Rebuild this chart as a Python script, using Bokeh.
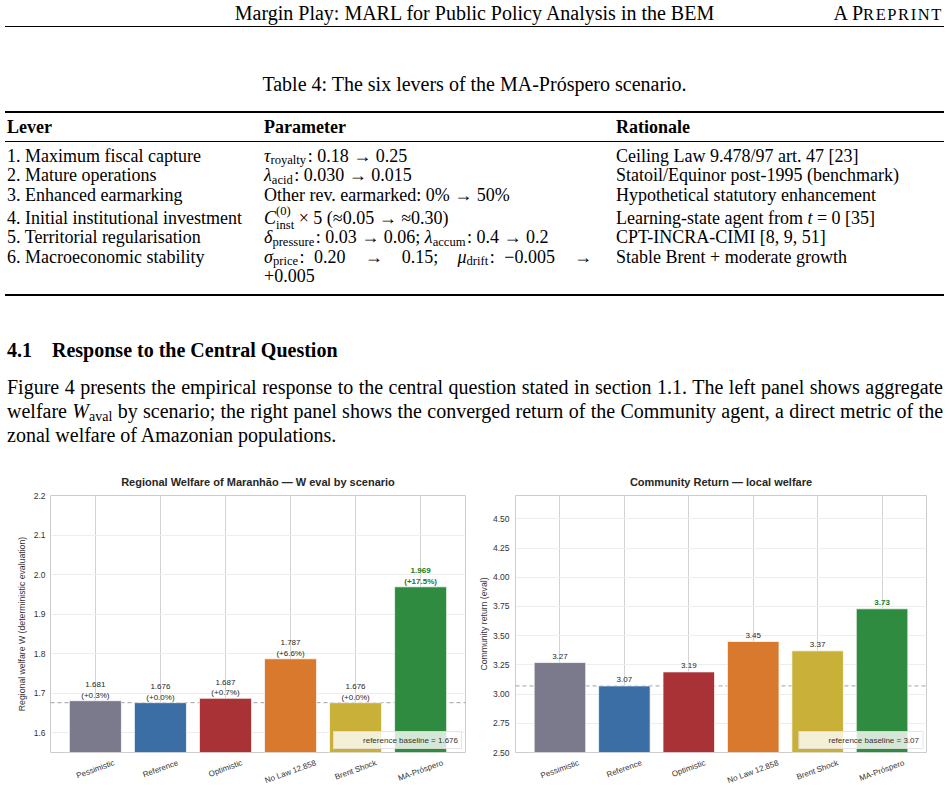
import math
from bokeh.plotting import figure
from bokeh.models import (Div, ColumnDataSource, FixedTicker, Span, Legend, LegendItem,
                          Range1d, NumeralTickFormatter)
from bokeh.layouts import column, row
from bokeh.core.properties import value
from bokeh.embed import file_html
from bokeh.resources import INLINE

# ---------------- data ----------------
scenarios = ["Pessimistic", "Reference", "Optimistic", "No Law 12.858", "Brent Shock", "MA-Próspero"]
bar_colors = ["#7a7a8c", "#3b6ea5", "#a83236", "#d9792d", "#c9b038", "#2e8b3f"]
welfare = [1.681, 1.676, 1.687, 1.787, 1.676, 1.969]
welfare_baseline = 1.676
welfare_ticks = [1.6, 1.7, 1.8, 1.9, 2.0, 2.1, 2.2]
community = [3.27, 3.07, 3.19, 3.45, 3.37, 3.73]
community_baseline = 3.07
community_ticks = [2.50, 2.75, 3.00, 3.25, 3.50, 3.75, 4.00, 4.25, 4.50]

levers = ["1. Maximum fiscal capture", "2. Mature operations", "3. Enhanced earmarking",
          "4. Initial institutional investment", "5. Territorial regularisation",
          "6. Macroeconomic stability"]
rationales = ["Ceiling Law 9.478/97 art. 47 [23]", "Statoil/Equinor post-1995 (benchmark)",
              "Hypothetical statutory enhancement", "Learning-state agent from <i>t</i> = 0 [35]",
              "CPT-INCRA-CIMI [8, 9, 51]", "Stable Brent + moderate growth"]

SUB = '<span style="font-size:0.7em;position:relative;top:0.2em;line-height:0;">{}</span>'
params = [
    '<i>τ</i>' + SUB.format('royalty') + '&#8202;: 0.18 → 0.25',
    '<i>λ</i>' + SUB.format('acid') + '&#8202;: 0.030 → 0.015',
    'Other rev. earmarked: 0% → 50%',
    '<i>C</i><span style="display:inline-block;position:relative;font-size:0.7em;line-height:1;">'
    '<span style="position:absolute;left:0;top:-0.7em;">(0)</span>'
    '<span style="position:relative;top:0.4em;">inst</span></span> × 5 (≈0.05 → ≈0.30)',
    '<i>δ</i>' + SUB.format('pressure') + '&#8202;: 0.03 → 0.06; <i>λ</i>' + SUB.format('accum') + '&#8202;: 0.4 → 0.2',
    '<i>σ</i>' + SUB.format('price') + '&#8202;: 0.20 &nbsp;→&nbsp; 0.15; &nbsp;<i>μ</i>' + SUB.format('drift') + '&#8202;: −0.005 &nbsp;→',
]
param_cont = "+0.005"

# ---------------- page text (Div) ----------------
SERIF = "'Liberation Serif', 'Times New Roman', serif"
DIV_H = 466


def el(left, baseline, html, size, bold=False, extra=""):
    top = baseline - 0.8375 * size
    w = "bold" if bold else "normal"
    return (f'<div style="position:absolute;left:{left}px;top:{top:.1f}px;font-size:{size}px;'
            f'line-height:1;font-weight:{w};white-space:nowrap;{extra}">{html}</div>')


def rule(top, h, left=5, width=939):
    return (f'<div style="position:absolute;left:{left}px;top:{top}px;width:{width}px;height:{h}px;'
            f'background:#000;"></div>')


parts = []
parts.append(el(0, 20, "Margin Play: MARL for Public Policy Analysis in the BEM", 20,
                extra="width:949px;text-align:center;"))
parts.append(el(0, 20, "A P<span style='font-size:16.5px;letter-spacing:1.6px'>REPRINT</span>", 20,
                extra="width:943px;text-align:right;"))
parts.append(rule(26, 1))
parts.append(el(0, 91, "Table 4: The six levers of the MA-Próspero scenario.", 20,
                extra="width:949px;text-align:center;"))
parts.append(rule(111, 2))
for x, h in zip([7, 264, 616], ["Lever", "Parameter", "Rationale"]):
    parts.append(el(x, 133, h, 18, bold=True))
parts.append(rule(141, 1))
row_base = [162, 181.5, 201.5, 224, 243.5, 263]
for i, yb in enumerate(row_base):
    parts.append(el(7, yb, levers[i], 18))
    if i == 5:
        parts.append(el(264, yb, params[i], 18,
                        extra="width:328px;text-align:justify;text-align-last:justify;white-space:normal;"))
    else:
        parts.append(el(264, yb, params[i], 18))
    parts.append(el(616, yb, rationales[i], 18))
parts.append(el(264, 282, param_cont, 18))
parts.append(rule(294, 2))
parts.append(el(7, 357, "4.1", 20, bold=True))
parts.append(el(52, 357, "Response to the Central Question", 20, bold=True))
para = [
    "Figure 4 presents the empirical response to the central question stated in section 1.1. The left panel shows aggregate",
    "welfare <i>W</i>" + SUB.format('aval') + " by scenario; the right panel shows the converged return of the Community agent, a direct metric of the",
    "zonal welfare of Amazonian populations.",
]
for j, (line, yb) in enumerate(zip(para, [394, 418, 442])):
    just = "text-align:justify;text-align-last:justify;" if j < 2 else ""
    parts.append(el(7, yb, line, 20, extra=f"width:936px;white-space:normal;{just}"))

html = (f'<div style="position:relative;width:949px;height:{DIV_H}px;font-family:{SERIF};color:#000;">'
        + "".join(parts) + "</div>")
div = Div(text=html, width=949, height=DIV_H, margin=0)

# ---------------- charts ----------------
SANS = "Liberation Sans"
FIG_H = 792 - DIV_H
TOP_B, BOT_B = 28, 39
ANGLE = 0.35
XLAB_PX = 8
X0, X1 = -0.69, 5.69

# approximate Arial/Liberation Sans advance widths (per 1000 em) to centre rotated labels
_W = {"P": 667, "e": 556, "s": 500, "i": 222, "m": 833, "t": 278, "c": 500, "R": 722, "f": 278,
      "r": 333, "n": 556, "O": 778, "p": 556, "N": 722, "o": 556, " ": 278, "L": 556, "a": 556,
      "w": 722, ".": 278, "B": 667, "S": 667, "h": 556, "k": 500, "M": 833, "A": 667, "-": 333,
      "ó": 556}


def text_w(s, size):
    return sum(_W.get(ch, 556) for ch in s) / 1000.0 * size


def make_chart(vals, base, ticks, fmt, yr, title, ylabel, labels, width, bl, br, legend_text,
               tick_standoff, label_standoff, text_off):
    xs = list(range(len(scenarios)))
    hi = len(vals) - 1
    tcol = ["#1a7a1a" if i == hi else "#262626" for i in xs]
    tsty = ["bold" if i == hi else "normal" for i in xs]
    src = ColumnDataSource(dict(x=xs, top=vals, color=bar_colors, label=labels, tc=tcol, ts=tsty))
    p = figure(width=width, height=FIG_H, x_range=Range1d(X0, X1), y_range=Range1d(*yr),
               output_backend="svg", toolbar_location=None, margin=0,
               min_border_left=bl, min_border_right=br, min_border_top=TOP_B, min_border_bottom=BOT_B)
    p.title.text = title
    p.title.align = "center"
    p.title.text_font = SANS
    p.title.text_font_size = "11px"
    p.title.text_font_style = "bold"
    p.title.text_color = "#262626"
    p.title.standoff = 15
    p.outline_line_color = "#cccccc"
    p.outline_line_width = 1
    p.background_fill_color = "white"
    p.border_fill_color = "white"

    p.xgrid.ticker = FixedTicker(ticks=xs)
    p.xgrid.grid_line_color = "#d3d3d3"
    p.ygrid.ticker = FixedTicker(ticks=ticks)
    p.ygrid.grid_line_color = "#ededed"

    # x-axis: rotated labels are end-anchored by Bokeh, so shift each tick by half the
    # label's horizontal extent to centre the label under its bar
    frame_w = width - bl - br
    unit_px = frame_w / (X1 - X0)
    xt = [round(i + text_w(s, XLAB_PX) * math.cos(ANGLE) / 2 / unit_px, 4)
          for i, s in zip(xs, scenarios)]
    p.xaxis.ticker = FixedTicker(ticks=xt)
    p.xaxis.major_label_overrides = {t: s for t, s in zip(xt, scenarios)}
    p.xaxis.major_label_orientation = ANGLE
    p.xaxis.major_label_text_font = SANS
    p.xaxis.major_label_text_font_size = f"{XLAB_PX}px"
    p.xaxis.major_label_text_color = "#333333"
    p.xaxis.major_label_standoff = 10

    p.yaxis.ticker = FixedTicker(ticks=ticks)
    p.yaxis.formatter = NumeralTickFormatter(format=fmt)
    p.axis.axis_line_color = None
    p.axis.major_tick_line_color = None
    p.axis.minor_tick_line_color = None
    p.axis.major_tick_out = 0
    p.axis.major_tick_in = 0
    p.yaxis.major_label_text_font = SANS
    p.yaxis.major_label_text_font_size = "8.5px"
    p.yaxis.major_label_text_color = "#333333"
    p.yaxis.major_label_standoff = tick_standoff
    p.yaxis.axis_label = ylabel
    p.yaxis.axis_label_text_font = SANS
    p.yaxis.axis_label_text_font_size = "8.7px"
    p.yaxis.axis_label_text_font_style = "normal"
    p.yaxis.axis_label_text_color = "#333333"
    p.yaxis.axis_label_standoff = label_standoff

    p.add_layout(Span(location=base, dimension="width", line_color="#a0a0a0",
                      line_dash="4 3", line_width=1, level="underlay"))
    p.vbar(x="x", top="top", bottom=0, width=0.8, fill_color="color", fill_alpha=1.0,
           line_color="#ffffff", line_alpha=0.7, line_width=1, source=src)
    p.text(x="x", y="top", text="label", text_align="center", text_baseline="bottom",
           y_offset=text_off, text_font=value(SANS), text_font_size="8px", text_color="tc",
           text_font_style="ts", text_line_height=1.2, source=src)

    leg_r = p.line(x=[], y=[], line_color="#a0a0a0", line_dash="4 3", line_width=1)
    legend = Legend(items=[LegendItem(label=legend_text, renderers=[leg_r])], location="bottom_right",
                    label_text_font=SANS, label_text_font_size="8px", label_text_color="#333333",
                    background_fill_color="white", background_fill_alpha=0.8,
                    border_line_color="#cccccc", border_line_width=1,
                    glyph_width=20, glyph_height=10, padding=3, margin=3, spacing=0,
                    label_standoff=6, label_height=10)
    p.add_layout(legend)
    return p


w_labels = [f"{v:.3f}\n({(v - welfare_baseline) / welfare_baseline * 100:+.1f}%)" for v in welfare]
c_labels = [f"{v:.2f}" for v in community]

p1 = make_chart(welfare, welfare_baseline, welfare_ticks, "0.0", (1.55, 2.2),
                "Regional Welfare of Maranhão — W eval by scenario",
                "Regional welfare W (deterministic evaluation)", w_labels, 475, 50, 10,
                f"reference baseline = {welfare_baseline:.3f}", 5, 4, -1)
p2 = make_chart(community, community_baseline, community_ticks, "0.00", (2.5, 4.70),
                "Community Return — local welfare", "Community return (eval)", c_labels, 474, 36, 23,
                f"reference baseline = {community_baseline:.2f}", 6, 1, -4)

layout = column(div, row(p1, p2, margin=0), margin=0)
open("out.html", "w").write(file_html(layout, INLINE))
